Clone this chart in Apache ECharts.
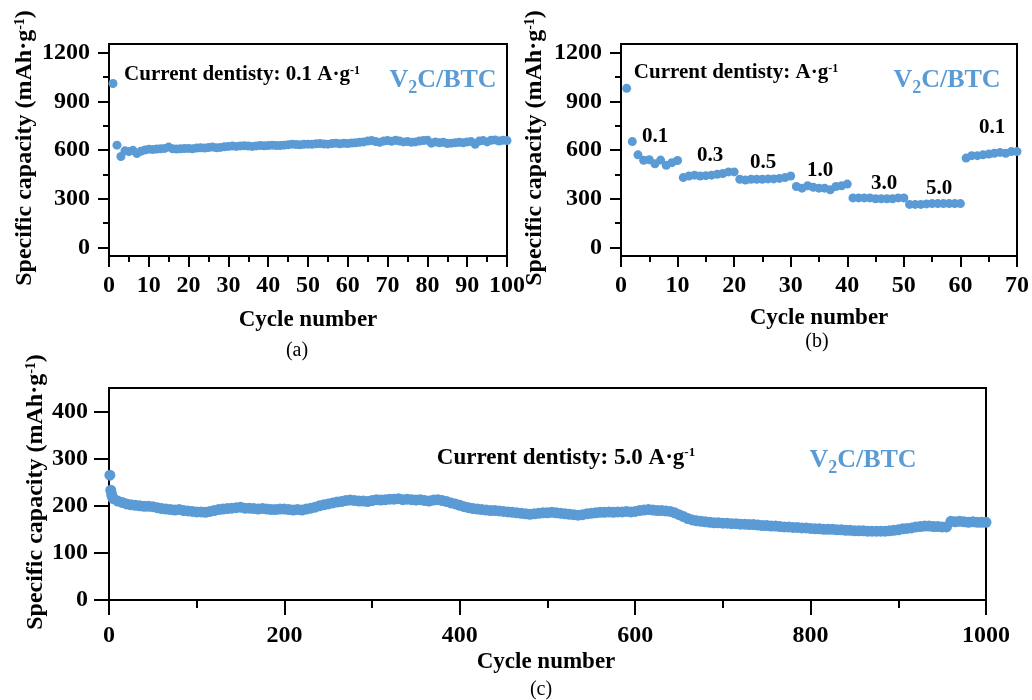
<!DOCTYPE html>
<html>
<head>
<meta charset="utf-8">
<script src="https://cdn.jsdelivr.net/npm/echarts@6/dist/echarts.min.js"></script>
<style>
  html, body { margin: 0; padding: 0; background: #fff; }
  #chart { width: 1032px; height: 700px; }
</style>
</head>
<body>
<div id="chart"></div>
<script>
// (a) 0.1 A/g cycling, cycles 1..100
const capA = [
  1010, 630, 560, 595, 590, 598, 578, 592, 600, 605,
  603, 606, 608, 610, 618, 608, 606, 607, 609, 610,
  608, 612, 614, 612, 615, 618, 614, 616, 620, 622,
  624, 622, 625, 626, 624, 622, 625, 628, 626, 628,
  630, 628, 627, 630, 632, 636, 634, 632, 635, 636,
  635, 638, 640, 637, 636, 640, 642, 638, 641, 640,
  643, 645, 648, 650, 655, 658, 652, 648, 655, 658,
  654, 660, 655, 650, 652, 648, 650, 655, 658, 660,
  642, 650, 645, 648, 640, 642, 645, 648, 645, 650,
  652, 635, 655, 658, 650, 660, 662, 655, 660, 658
]

// (b) rate test, cycles 1..70
const capB = [
  980, 652, 570, 537, 540, 515, 538, 506, 522, 535,
  430, 440, 445, 440, 442, 445, 450, 455, 465, 465,
  420, 415, 420, 420, 420, 422, 422, 425, 430, 440,
  375, 365, 380, 370, 365, 365, 355, 375, 380, 390,
  305, 305, 305, 305, 300, 300, 300, 300, 305, 305,
  265, 265, 265, 268, 270, 270, 270, 270, 270, 270,
  550, 565, 565, 570, 575, 580, 585, 580, 590, 590
]
const rateLabels = ['0.1', '0.3', '0.5', '1.0', '3.0', '5.0', '0.1']

// (c) 5.0 A/g long cycling: cycles 1..4, then every 5th cycle 5..1000
const capCStart = [265, 233, 224, 218]
const capCStep = 5
const capC = [
  215, 210, 207, 204, 202, 201, 200, 199, 199, 198,
  196, 194, 193, 192, 191, 192, 190, 189, 188, 187,
  187, 186, 188, 190, 192, 193, 194, 195, 196, 197,
  195, 195, 194, 193, 194, 193, 192, 192, 193, 193,
  192, 191, 192, 191, 193, 195, 197, 200, 202, 204,
  206, 208, 209, 211, 212, 211, 210, 210, 209, 211,
  213, 212, 213, 214, 214, 215, 213, 214, 213, 212,
  213, 211, 210, 212, 213, 211, 209, 206, 204, 201,
  198, 196, 194, 193, 192, 191, 190, 190, 189, 188,
  187, 186, 185, 184, 183, 182, 183, 184, 185, 185,
  186, 185, 184, 183, 182, 181, 180, 181, 183, 184,
  185, 186, 186, 187, 186, 187, 187, 188, 187, 188,
  190, 191, 192, 191, 190, 190, 189, 188, 185, 181,
  177, 173, 170, 168, 167, 166, 165, 164, 164, 163,
  163, 162, 162, 161, 161, 160, 160, 159, 158, 158,
  157, 157, 156, 155, 155, 154, 154, 153, 153, 152,
  151, 151, 150, 150, 150, 149, 149, 148, 148, 147,
  147, 147, 146, 146, 146, 146, 146, 147, 148, 149,
  151, 152, 153, 155, 156, 157, 157, 156, 156, 155,
  155, 167, 166, 167, 166, 165, 166, 165, 165, 165
]

const yTicksAB = [0, 300, 600, 900, 1200]
const yMinorAB = [150, 450, 750, 1050]
const yTicksC = [0, 100, 200, 300, 400]

const FONT = 'Liberation Serif'
const BLUE = '#5b9bd5'

const dataA = capA.map((v, i) => [i + 1, v])
const dataB = capB.map((v, i) => [i + 1, v])
const dataC = capCStart.map((v, i) => [i + 1, v])
  .concat(capC.map((v, i) => [(i + 1) * capCStep, v]))

const chart = echarts.init(document.getElementById('chart'))

const labelStyle = { fontFamily: FONT, fontWeight: 'bold', fontSize: 24, color: '#000', formatter: v => String(v) }
const lineStyle = { color: '#000', width: 2 }

function xAxisOf(grid, max, interval, margin, tickLen) {
  return {
    type: 'value', gridIndex: grid, min: 0, max: max, interval: interval,
    axisLine: { onZero: false, lineStyle: lineStyle },
    axisTick: { length: tickLen, lineStyle: lineStyle },
    minorTick: { show: true, splitNumber: 2, length: Math.round(tickLen / 2), lineStyle: lineStyle },
    axisLabel: Object.assign({ margin: margin }, labelStyle),
    splitLine: { show: false }
  }
}

function yAxisAB(grid) {
  return {
    type: 'value', gridIndex: grid, min: -53, max: 1253,
    axisLine: { show: true, onZero: false, lineStyle: lineStyle },
    axisTick: { length: 11, customValues: yTicksAB, lineStyle: lineStyle },
    axisLabel: Object.assign({ margin: 19, customValues: yTicksAB }, labelStyle),
    splitLine: { show: false }
  }
}

function yMinor(grid) {
  return {
    type: 'value', gridIndex: grid, min: -53, max: 1253, position: 'left',
    axisLine: { show: false },
    axisTick: { length: 6, customValues: yMinorAB, lineStyle: lineStyle },
    axisLabel: { show: false },
    splitLine: { show: false }
  }
}

function text(x, y, str, size, weight) {
  return {
    type: 'text', x: x, y: y,
    style: {
      text: str, fontFamily: FONT, fontWeight: weight || 'bold', fontSize: size,
      fill: '#000', align: 'center', verticalAlign: 'middle'
    }
  }
}

function richText(x, y, str, size, color, rotation) {
  const base = { fontFamily: FONT, fontWeight: 'bold', fill: color, color: color, verticalAlign: 'top' }
  return {
    type: 'text', x: x, y: y, rotation: rotation || 0,
    style: {
      text: str, align: 'center', verticalAlign: 'middle', fill: color,
      fontFamily: FONT, fontWeight: 'bold', fontSize: size,
      rich: {
        b: Object.assign({ fontSize: size }, base),
        s: Object.assign({ fontSize: Math.round(size * 0.58) }, base),
        // subscript pushed down below the baseline
        d: Object.assign({ fontSize: Math.round(size * 0.68), padding: [Math.round(size * 0.45), 0, 0, 0] }, base)
      }
    }
  }
}

const yTitle = '{b|Specific capacity (mAh·g}{s|-1}{b|)}'
const sample = '{b|V}{d|2}{b|C/BTC}'

const graphics = [
  richText(25, 148, yTitle, 24, '#000', Math.PI / 2),
  richText(535, 148, yTitle, 24, '#000', Math.PI / 2),
  richText(36, 492, yTitle, 24, '#000', Math.PI / 2),
  text(308, 320, 'Cycle number', 23),
  text(819, 318, 'Cycle number', 23),
  text(546, 662, 'Cycle number', 23),
  text(297, 351, '(a)', 20, 'normal'),
  text(817, 342, '(b)', 20, 'normal'),
  text(541, 690, '(c)', 20, 'normal'),
  richText(242, 75, '{b|Current dentisty: 0.1 A·g}{s|-1}', 21, '#000'),
  richText(736, 73, '{b|Current dentisty: A·g}{s|-1}', 21, '#000'),
  richText(566, 458, '{b|Current dentisty: 5.0 A·g}{s|-1}', 23, '#000'),
  richText(443, 82, sample, 26, BLUE),
  richText(947, 82, sample, 26, BLUE),
  richText(863, 462, sample, 26, BLUE)
]

// rate labels above each block in (b)
const ratePos = [[655, 137], [710, 156], [763, 163], [820, 171], [884, 184], [939, 189], [992, 128]]
rateLabels.forEach((t, i) => graphics.push(text(ratePos[i][0], ratePos[i][1], t, 21)))

const gridStyle = { show: true, borderColor: '#000', borderWidth: 2, backgroundColor: 'transparent' }

chart.setOption({
  animation: false,
  grid: [
    Object.assign({ left: 109, right: 525, top: 44, bottom: 444 }, gridStyle),
    Object.assign({ left: 621, right: 14, top: 44, bottom: 444 }, gridStyle),
    Object.assign({ left: 109, right: 46, top: 388, bottom: 100 }, gridStyle)
  ],
  xAxis: [
    xAxisOf(0, 100, 10, 18, 11),
    xAxisOf(1, 70, 10, 18, 11),
    xAxisOf(2, 1000, 200, 24, 15)
  ],
  yAxis: [
    yAxisAB(0),
    yAxisAB(1),
    {
      type: 'value', gridIndex: 2, min: 0, max: 450,
      axisLine: { show: true, onZero: false, lineStyle: lineStyle },
      axisTick: { length: 15, customValues: yTicksC, lineStyle: lineStyle },
      axisLabel: Object.assign({ margin: 21, customValues: yTicksC }, labelStyle),
      splitLine: { show: false }
    },
    yMinor(0),
    yMinor(1)
  ],
  series: [
    { type: 'scatter', xAxisIndex: 0, yAxisIndex: 0, data: dataA, symbolSize: 9, itemStyle: { color: BLUE, opacity: 1 } },
    { type: 'scatter', xAxisIndex: 1, yAxisIndex: 1, data: dataB, symbolSize: 9, itemStyle: { color: BLUE, opacity: 1 } },
    { type: 'scatter', xAxisIndex: 2, yAxisIndex: 2, data: dataC, symbolSize: 11, itemStyle: { color: BLUE, opacity: 1 } }
  ],
  graphic: graphics
})
</script>
</body>
</html>
